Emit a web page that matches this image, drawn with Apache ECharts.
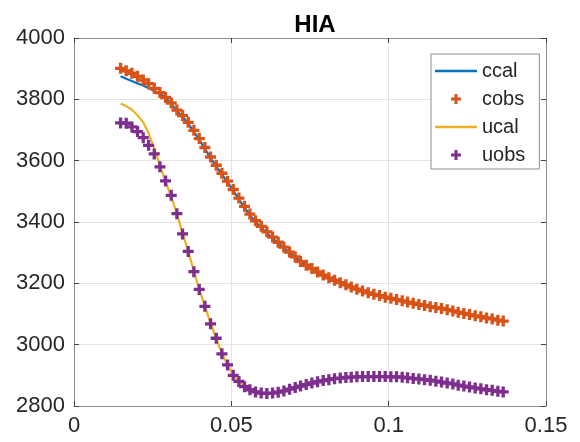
<!DOCTYPE html>
<html>
<head>
<meta charset="utf-8">
<script src="https://cdn.jsdelivr.net/npm/echarts@6/dist/echarts.min.js"></script>
<style>
html,body{margin:0;padding:0;background:#fff;}
#chart{width:580px;height:442px;}
</style>
</head>
<body>
<div id="chart"></div>
<script>
// x positions of the samples
const xs = [0.0148,0.0166,0.0184,0.0202,0.0220,0.0237,0.0255,0.0273,0.0291,0.0309,
            0.0327,0.0345,0.0363,0.0381,0.0398,0.0416,0.0434,0.0452,0.0470,0.0488,
            0.0506,0.0524,0.0542,0.0559,0.0577,0.0595,0.0613,0.0631,0.0649,0.0667,
            0.0685,0.0703,0.0720,0.0738,0.0756,0.0774,0.0792,0.0810,0.0828,0.0846,
            0.0864,0.0881,0.0899,0.0917,0.0935,0.0953,0.0971,0.0989,0.1007,0.1025,
            0.1043,0.1060,0.1078,0.1096,0.1114,0.1132,0.1150,0.1168,0.1186,0.1204,
            0.1221,0.1239,0.1257,0.1275,0.1293,0.1311,0.1329,0.1347,0.1364];

const cobs = [3901,3893,3885,3875,3863,3851,3836,3822,3806,3788,
              3765,3747,3725,3699,3672,3643,3612,3585,3559,3533,
              3506,3478,3451,3426,3404,3386,3368,3351,3334,3318,
              3302,3286,3271,3259,3248,3237,3227,3218,3210,3202,
              3195,3188,3181,3175,3169,3164,3160,3155,3151,3147,
              3143,3139,3135,3131,3128,3124,3121,3118,3114,3110,
              3106,3102,3098,3094,3091,3087,3084,3080,3077];

const ccal = [3875,3867,3860,3852,3845,3836,3828,3820,3804,3785,
              3762,3743,3721,3695,3668,3639,3608,3581,3555,3529,
              3502,3474,3447,3422,3400,3382,3364,3347,3331,3315,
              3300,3285,3271,3259,3248,3237,3227,3218,3210,3202,
              3195,3188,3181,3175,3169,3164,3160,3155,3151,3147,
              3143,3139,3135,3131,3128,3124,3121,3118,3114,3110,
              3106,3102,3098,3094,3091,3087,3084,3080,3077];

const uobs = [3723,3722,3710,3695,3675,3650,3622,3580,3534,3487,
              3427,3361,3304,3238,3180,3125,3068,3021,2970,2934,
              2900,2880,2863,2853,2846,2842,2841,2842,2845,2849,
              2855,2860,2865,2870,2875,2879,2883,2886,2889,2891,
              2893,2894,2895,2896,2896,2896,2896,2896,2895,2895,
              2894,2892,2890,2888,2886,2884,2881,2878,2875,2872,
              2868,2865,2862,2859,2856,2853,2851,2848,2846];

const ucal = [3786,3778,3766,3748,3725,3690,3640,3585,3532,3482,
              3428,3363,3305,3239,3181,3126,3069,3021,2971,2934,
              2901,2880,2864,2853,2846,2842,2841,2842,2845,2849,
              2855,2860,2865,2870,2875,2879,2883,2886,2889,2891,
              2893,2894,2895,2896,2896,2896,2896,2896,2895,2895,
              2894,2892,2890,2888,2886,2884,2881,2878,2875,2872,
              2868,2865,2862,2859,2856,2853,2851,2848,2846];

const xTicks = ['0','0.05','0.1','0.15'];
const yTicks = ['2800','3000','3200','3400','3600','3800','4000'];
const titleText = 'HIA';
const seriesNames = ['ccal','cobs','ucal','uobs'];

const colors = {ccal:'#0072BD', cobs:'#D95319', ucal:'#EDB120', uobs:'#7E2F8E'};
const plusPath = 'path://M3.5,0H6.5V3.5H10V6.5H6.5V10H3.5V6.5H0V3.5H3.5Z';
const linePath = 'path://M0,0H42V2.4H0Z';
const FONT = "'Liberation Sans', Arial, Helvetica, sans-serif";
const TXT = '#262626';
const AX = '#8c8c8c';

const zip = (a) => xs.map((x, i) => [x, a[i]]);

const chart = echarts.init(document.getElementById('chart'), null, {renderer: 'canvas'});

function xAx(pos, labels) {
  return {
    type: 'value', position: pos, min: 0, max: 0.15, interval: 0.05,
    axisLine: {show: true, onZero: false, lineStyle: {color: AX, width: 1}},
    axisTick: {show: true, inside: true, length: 5, lineStyle: {color: '#444'}},
    axisLabel: {show: labels, color: TXT, fontSize: 22, fontFamily: FONT, margin: 9,
      formatter: (v) => { const k = Math.round(v / 0.05); return xTicks[k] !== undefined ? xTicks[k] : ''; }},
    splitLine: {show: labels, lineStyle: {color: '#e4e4e4', width: 1}}
  };
}
function yAx(pos, labels) {
  return {
    type: 'value', position: pos, min: 2800, max: 4000, interval: 200,
    axisLine: {show: true, onZero: false, lineStyle: {color: AX, width: 1}},
    axisTick: {show: true, inside: true, length: 5, lineStyle: {color: '#444'}},
    axisLabel: {show: labels, color: TXT, fontSize: 22, fontFamily: FONT, margin: 9,
      formatter: (v) => { const k = Math.round((v - 2800) / 200); return yTicks[k] !== undefined ? yTicks[k] : ''; }},
    splitLine: {show: labels, lineStyle: {color: '#e4e4e4', width: 1}}
  };
}

chart.setOption({
  animation: false,
  backgroundColor: '#fff',
  title: {
    text: titleText, left: 310, top: 8, textAlign: 'center',
    textStyle: {fontSize: 24, fontWeight: 'bold', color: '#000', fontFamily: FONT}
  },
  grid: {left: 74, right: 34, top: 38, bottom: 36, containLabel: false},
  xAxis: [xAx('bottom', true), xAx('top', false)],
  yAxis: [yAx('left', true), yAx('right', false)],
  legend: {
    orient: 'vertical', left: 431, top: 54,
    padding: [7, 14, 4, 4], itemGap: 8,
    itemWidth: 42, itemHeight: 10,
    backgroundColor: '#fff', borderColor: '#8c8c8c', borderWidth: 1,
    textStyle: {fontSize: 20, color: TXT, fontFamily: FONT},
    data: [
      {name: 'ccal', icon: linePath},
      {name: 'cobs', icon: plusPath},
      {name: 'ucal', icon: linePath},
      {name: 'uobs', icon: plusPath}
    ]
  },
  series: [
    {name: 'ccal', type: 'line', data: zip(ccal), showSymbol: false, symbol: 'none',
     lineStyle: {color: colors.ccal, width: 2.2}, itemStyle: {color: colors.ccal}, z: 2},
    {name: 'cobs', type: 'scatter', data: zip(cobs), symbol: plusPath, symbolSize: 11,
     itemStyle: {color: colors.cobs, opacity: 1}, z: 3},
    {name: 'ucal', type: 'line', data: zip(ucal), showSymbol: false, symbol: 'none',
     lineStyle: {color: colors.ucal, width: 2.2}, itemStyle: {color: colors.ucal}, z: 4},
    {name: 'uobs', type: 'scatter', data: zip(uobs), symbol: plusPath, symbolSize: 11,
     itemStyle: {color: colors.uobs, opacity: 1}, z: 5}
  ]
});
</script>
</body>
</html>
